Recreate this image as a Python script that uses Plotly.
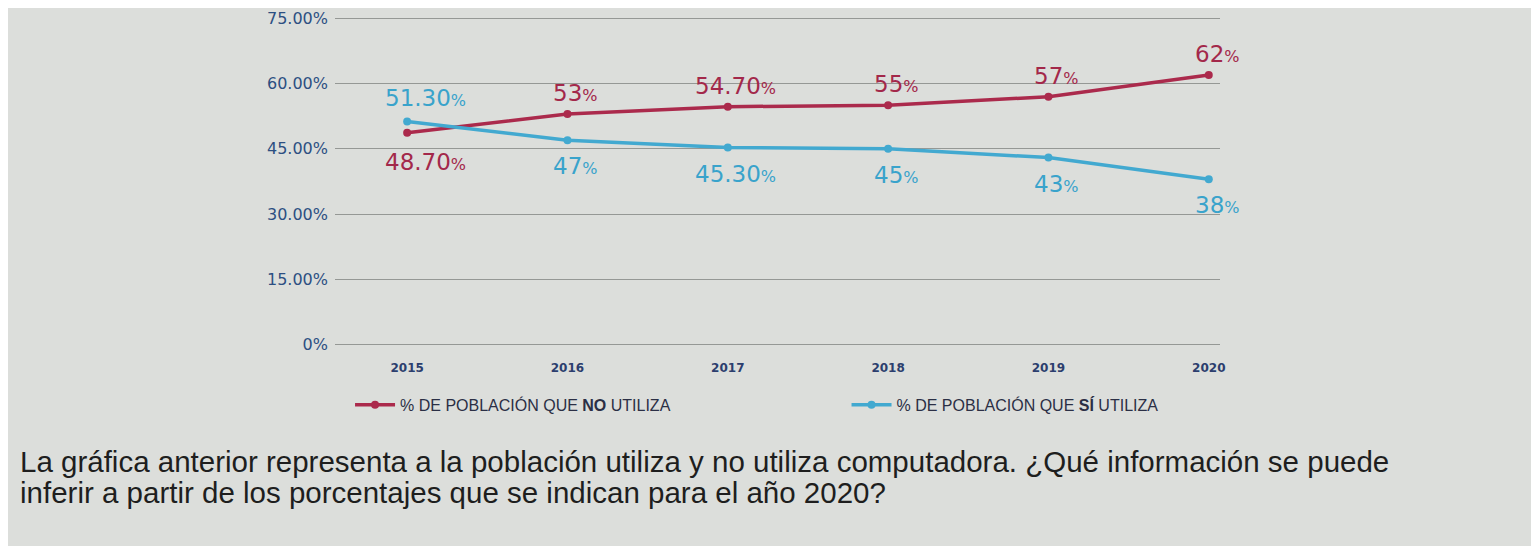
import plotly.graph_objects as go

# Data
years = ['2015', '2016', '2017', '2018', '2019', '2020']
no_utiliza = [48.7, 53, 54.7, 55, 57, 62]
si_utiliza = [51.3, 47, 45.3, 45, 43, 38]
no_labels = ['48.70', '53', '54.70', '55', '57', '62']
si_labels = ['51.30', '47', '45.30', '45', '43', '38']
y_ticks = [0, 15, 30, 45, 60, 75]
y_tick_text = ['0%', '15.00%', '30.00%', '45.00%', '60.00%', '75.00%']

RED = '#ab2a4c'
BLUE = '#42a9d0'
BG = '#dcdedb'

fig = go.Figure()

fig.add_trace(go.Scatter(
    x=years, y=no_utiliza, mode='lines+markers',
    name='% DE POBLACIÓN QUE <b>NO</b> UTILIZA',
    line=dict(color=RED, width=3.5),
    marker=dict(color=RED, size=8),
    legend='legend', showlegend=True
))
fig.add_trace(go.Scatter(
    x=years, y=si_utiliza, mode='lines+markers',
    name='% DE POBLACIÓN QUE <b>SÍ</b> UTILIZA',
    line=dict(color=BLUE, width=3.5),
    marker=dict(color=BLUE, size=8),
    legend='legend2', showlegend=True
))

# point labels: red above, blue below (swapped in 2015, where blue is higher)
def pct(s):
    return s + '<span style="font-size:16px">%</span>'

for i in range(len(years)):
    red_up = no_utiliza[i] >= si_utiliza[i]
    xs = 18 if i == 0 else 8
    fig.add_annotation(x=i, y=no_utiliza[i], xref='x', yref='y',
                       text=pct(no_labels[i]),
                       showarrow=False, xshift=xs,
                       yshift=21 if red_up else -29,
                       font=dict(size=23, color='#a3284a', family='DejaVu Sans'))
    fig.add_annotation(x=i, y=si_utiliza[i], xref='x', yref='y',
                       text=pct(si_labels[i]),
                       showarrow=False, xshift=xs,
                       yshift=-26 if red_up else 23,
                       font=dict(size=23, color='#39a3cb', family='DejaVu Sans'))

# question text below the chart
fig.add_annotation(xref='paper', yref='paper', x=-0.358, y=-0.337,
                   xanchor='left', yanchor='middle', showarrow=False,
                   text='La gráfica anterior representa a la población utiliza y no utiliza computadora. ¿Qué información se puede',
                   font=dict(size=29.5, color='#1e1e1e', family='Liberation Sans'))
fig.add_annotation(xref='paper', yref='paper', x=-0.358, y=-0.427,
                   xanchor='left', yanchor='middle', showarrow=False,
                   text='inferir a partir de los porcentajes que se indican para el año 2020?',
                   font=dict(size=29.5, color='#1e1e1e', family='Liberation Sans'))

legend_style = dict(orientation='h', y=-0.167, xanchor='left', yanchor='middle',
                    itemwidth=40,
                    font=dict(size=16, color='#2b2f45', family='Liberation Sans'),
                    bgcolor='rgba(0,0,0,0)')

fig.update_layout(
    width=1539, height=546,
    showlegend=True,
    margin=dict(l=327, r=327, t=6, b=205, autoexpand=False),
    paper_bgcolor=BG, plot_bgcolor=BG,
    font=dict(family='DejaVu Sans', color='#2c4f82'),
    legend=dict(x=0.017, **legend_style),
    legend2=dict(x=0.578, **legend_style),
    xaxis=dict(type='category', range=[-0.45, 5.07], showgrid=False,
               ticks='', ticklabelstandoff=10,
               tickfont=dict(size=12, color='#2c3e6e', family='DejaVu Sans', weight='bold'),
               showline=False, zeroline=False),
    yaxis=dict(range=[-1, 76], tickvals=y_ticks, ticktext=y_tick_text,
               showgrid=True, gridcolor='#959895', gridwidth=1.3,
               zeroline=False, showline=False, ticks='',
               ticklabeloverflow='allow',
               tickfont=dict(size=16, color='#2c4f82', family='DejaVu Sans'),
               ticklabelstandoff=6),
)

fig.write_html('out.html')
